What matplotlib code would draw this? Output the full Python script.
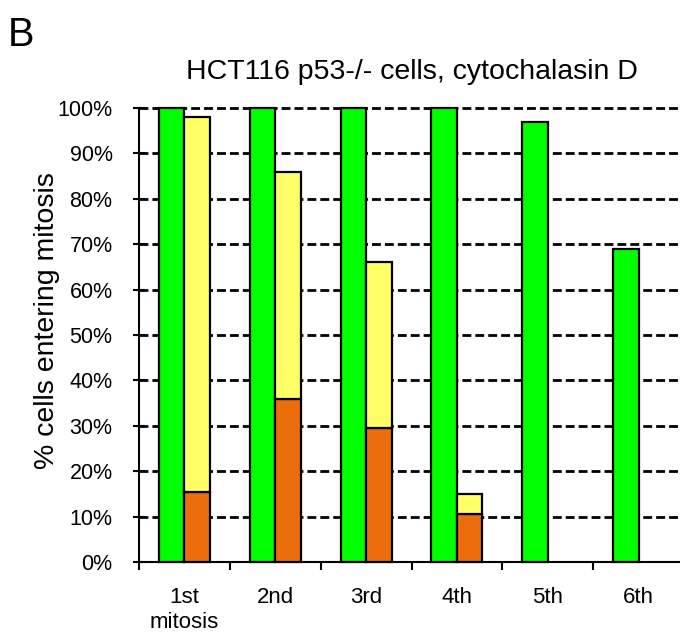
import matplotlib
matplotlib.use("Agg")
import matplotlib.pyplot as plt
import numpy as np

# datos (% de celulas que entran en mitosis)
CATEGORIAS = ["1st\nmitosis", "2nd", "3rd", "4th", "5th", "6th"]
VERDE = [100, 100, 100, 100, 97, 69]       # barra verde
AMARILLO_TOTAL = [98, 86, 66, 15, 0, 0]    # tope de la barra apilada
NARANJA = [15.5, 36, 29.5, 10.5, 0, 0]     # parte de abajo de la barra apilada
Y_TICKS = [0, 10, 20, 30, 40, 50, 60, 70, 80, 90, 100]

TITULO = "HCT116 p53-/- cells, cytochalasin D"
Y_LABEL = "% cells entering mitosis"

plt.rcParams["font.family"] = ["Liberation Sans", "DejaVu Sans"]

fig = plt.figure(figsize=(6.8, 6.37), dpi=100)
ax = fig.add_axes([139 / 680, 75 / 637, 545 / 680, 454 / 637])

x = np.arange(len(CATEGORIAS))
w = 0.28
amarillo = [t - n for t, n in zip(AMARILLO_TOTAL, NARANJA)]

ax.bar(x - w / 2, VERDE, w, color="#00ff00", edgecolor="black", linewidth=1.6,
       clip_on=False, zorder=3)
mask = [t > 0 for t in AMARILLO_TOTAL]
xs = x[mask] + w / 2
ax.bar(xs, np.array(NARANJA)[mask], w, color="#ec6d0c", edgecolor="black",
       linewidth=1.6, clip_on=False, zorder=3)
ax.bar(xs, np.array(amarillo)[mask], w, bottom=np.array(NARANJA)[mask],
       color="#ffff66", edgecolor="black", linewidth=1.6, clip_on=False, zorder=3)

ax.set_xlim(-0.5, 5.5)
ax.set_ylim(0, 100)
ax.set_yticks(Y_TICKS)
ax.set_yticklabels(["{}%".format(v) for v in Y_TICKS], fontsize=15.5)
ax.set_xticks(x)
ax.set_xticklabels(CATEGORIAS, fontsize=16, linespacing=1.25)
ax.set_xticks(np.arange(-0.5, 5.0, 1.0), minor=True)
ax.tick_params(axis="x", which="major", length=0, pad=18)
ax.tick_params(axis="x", which="minor", length=6, width=1.5, direction="out")
ax.tick_params(axis="y", length=8, width=1.5, direction="inout", pad=15)

for v in Y_TICKS[1:]:
    ax.axhline(v, color="black", linewidth=2.0, linestyle=(0, (3.2, 1.45)),
               zorder=1, clip_on=False)

for s in ["top", "right"]:
    ax.spines[s].set_visible(False)
for s in ["left", "bottom"]:
    ax.spines[s].set_linewidth(1.5)

ax.set_title(TITULO, fontsize=20.5, pad=21)
ax.set_ylabel(Y_LABEL, fontsize=20.5)
ax.yaxis.set_label_coords(-0.145, 0.531)

fig.text(0.011, 0.975, "B", fontsize=28.5, va="top", ha="left")

fig.savefig("out.png", dpi=100)
